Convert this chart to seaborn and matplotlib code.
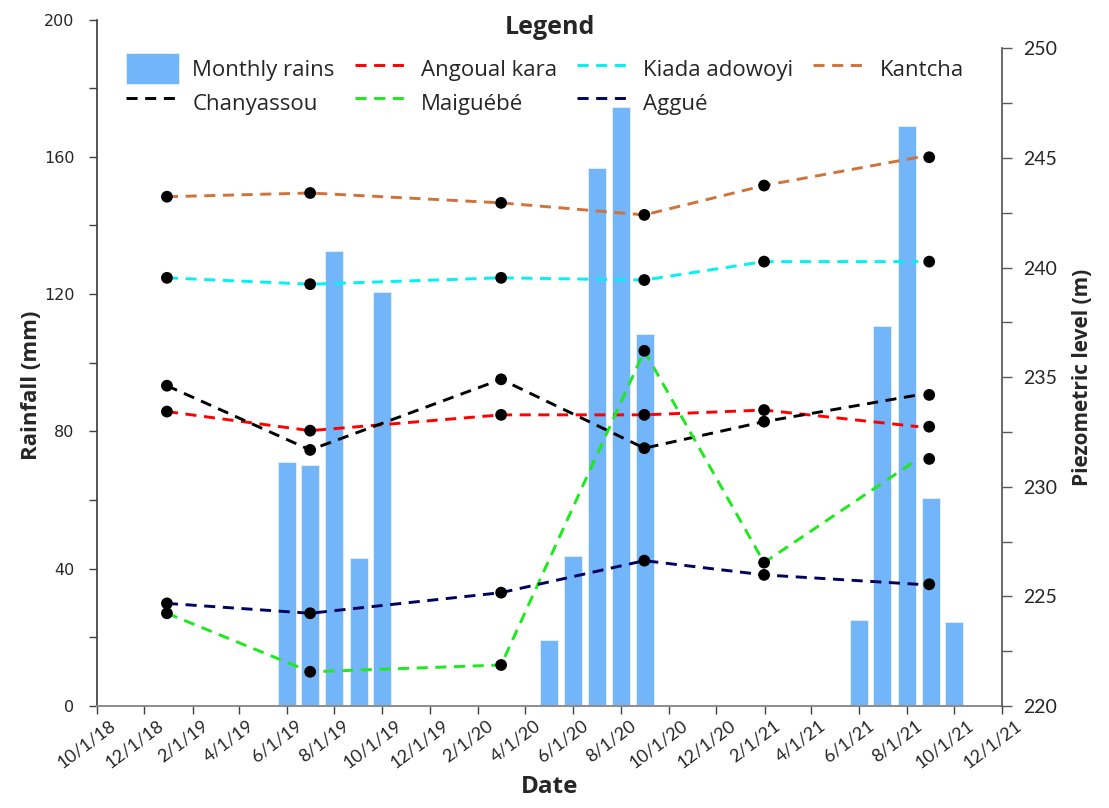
import matplotlib
matplotlib.use("Agg")
import matplotlib.pyplot as plt
import matplotlib.dates as mdates
import matplotlib.transforms as mtransforms
from matplotlib.ticker import MultipleLocator, FuncFormatter
import pandas as pd
import seaborn as sns

# monthly rainfall (mm)
rain_dates = ["2019-06-01", "2019-07-01", "2019-08-01", "2019-09-01", "2019-10-01",
              "2020-05-01", "2020-06-01", "2020-07-01", "2020-08-01", "2020-09-01",
              "2021-06-01", "2021-07-01", "2021-08-01", "2021-09-01", "2021-10-01"]
rain_mm = [71.0, 70.1, 132.7, 43.0, 120.7,
           19.2, 43.8, 156.6, 174.4, 108.4,
           25.0, 110.7, 169.0, 60.5, 24.6]

# piezometric surveys (m)
survey_dates = ["2018-12-30", "2019-07-01", "2020-03-01", "2020-08-31", "2021-01-31", "2021-08-30"]
line_dates = ["2018-12-30", "2019-07-01", "2020-03-01", "2020-08-31", "2021-01-31", "2021-08-16"]
angoual_kara = [233.43, 232.56, 233.28, 233.28, 233.50, 232.74]
kiada_adowoyi = [239.53, 239.24, 239.53, 239.43, 240.27, 240.27]
kantcha = [243.23, 243.40, 242.95, 242.40, 243.74, 245.03]
chanyassou = [234.61, 231.68, 234.90, 231.76, 232.97, 234.19]
maiguebe = [224.23, 221.56, 221.87, 236.20, 226.54, 231.27]
aggue = [224.68, 224.23, 225.17, 226.63, 225.98, 225.55]

wells = {
    "Angoual kara": (angoual_kara, "#FF0000"),
    "Kiada adowoyi": (kiada_adowoyi, "#00F2F2"),
    "Kantcha": (kantcha, "#D0733A"),
    "Chanyassou": (chanyassou, "#000000"),
    "Maiguébé": (maiguebe, "#1EE81E"),
    "Aggué": (aggue, "#00005E"),
}

sns.set_theme(style="white")
plt.rcParams["font.family"] = ["Lato", "DejaVu Sans"]

W, H = 1109, 808
fig = plt.figure(figsize=(W / 100, H / 100), dpi=100)
left, right, top, bottom = 96.5, 1002, 19.5, 706
ax = fig.add_axes([left / W, (H - bottom) / H, (right - left) / W, (bottom - top) / H])
ax2 = ax.twinx()

rain = pd.DataFrame({"date": pd.to_datetime(rain_dates), "mm": rain_mm})
bars = ax.bar(rain["date"], rain["mm"], width=23, color="#72B5F8", edgecolor="#E6F1FD",
              linewidth=0.6, label="Monthly rains", zorder=2)

handles = {}
for name, (vals, col) in wells.items():
    sns.lineplot(x=pd.to_datetime(line_dates), y=vals, ax=ax2, color=col, linewidth=2.1,
                 linestyle=(0, (3.8, 2.6)), label=name, legend=False)
    handles[name] = ax2.get_lines()[-1]
    sns.scatterplot(x=pd.to_datetime(survey_dates), y=vals, ax=ax2, color="black", s=72,
                    edgecolor="none", zorder=5, legend=False)

ax.set_xlim(pd.Timestamp("2018-10-01"), pd.Timestamp("2021-12-01"))
ax.set_ylim(0, 200)
ax2.set_ylim(220, 220 + 30 * (bottom - top) / 657.7)

ax.xaxis.set_major_locator(mdates.MonthLocator(bymonth=[2, 4, 6, 8, 10, 12], bymonthday=1))
ax.xaxis.set_major_formatter(FuncFormatter(
    lambda x, p: "{}/{}/{}".format(mdates.num2date(x).month, mdates.num2date(x).day,
                                   mdates.num2date(x).strftime("%y"))))
ax.yaxis.set_major_locator(MultipleLocator(40))
ax.yaxis.set_minor_locator(MultipleLocator(20))
ax2.yaxis.set_major_locator(MultipleLocator(5))
ax2.yaxis.set_minor_locator(MultipleLocator(2.5))

for a in (ax, ax2):
    a.spines["top"].set_visible(False)
ax.spines["right"].set_visible(False)
ax2.spines["left"].set_visible(False)
ax2.spines["bottom"].set_visible(False)
ax2.spines["right"].set_bounds(220, 250)
ax.spines["left"].set_color("#404040")
ax.spines["bottom"].set_color("#8C8C8C")
ax.spines["bottom"].set_linewidth(1.4)
ax2.spines["right"].set_color("#595959")
ax.grid(False)
ax2.grid(False)

ax.tick_params(axis="x", which="major", direction="out", length=6, width=1, color="#404040",
               labelsize=13, labelrotation=37, pad=2, bottom=True)
ax.tick_params(axis="y", which="both", direction="out", length=6, width=1, color="#404040",
               left=True, labelsize=11.5, pad=10)
ax2.tick_params(axis="y", which="both", direction="out", length=7, width=1, color="#595959",
                right=True, labelsize=14, pad=8)
for lab in ax.get_yticklabels():
    lab.set_fontfamily("DejaVu Sans")
for lab in ax.get_xticklabels():
    lab.set_ha("center")

label_font = {"family": "Open Sans", "weight": "bold"}
ax.set_xlabel("Date", fontsize=17.5, **label_font)
ax.xaxis.set_label_coords(0.5, -0.1)
ax.set_ylabel("Rainfall (mm)", fontsize=16, **label_font)
ax.yaxis.set_label_coords(-0.06, 0.4676)
ax2.set_ylabel("Piezometric level (m)", fontsize=15, **label_font)
ax2.yaxis.set_label_coords(1.077, 0.478)

order = [bars, handles["Chanyassou"], handles["Angoual kara"], handles["Maiguébé"],
         handles["Kiada adowoyi"], handles["Aggué"], handles["Kantcha"]]
labels = ["Monthly rains", "Chanyassou", "Angoual kara", "Maiguébé", "Kiada adowoyi",
          "Aggué", "Kantcha"]
leg = ax2.legend(order, labels, ncol=4, loc="upper center", bbox_to_anchor=(0.4953, 0.967),
                 frameon=False, prop={"family": "Open Sans", "size": 16},
                 handlelength=2.39, handleheight=1.78, handletextpad=0.59,
                 columnspacing=0.9, labelspacing=0.12, borderpad=0.0)
fig.text(550 / W, 1 - 27 / H, "Legend", ha="center", va="center",
         fontsize=18, fontweight="bold", family="Open Sans")

fig.canvas.draw()
offset = mtransforms.ScaledTranslation(-10 / 100, 0, fig.dpi_scale_trans)
for lab in ax.get_xticklabels():
    lab.set_transform(lab.get_transform() + offset)

fig.savefig("out.png", dpi=100)
